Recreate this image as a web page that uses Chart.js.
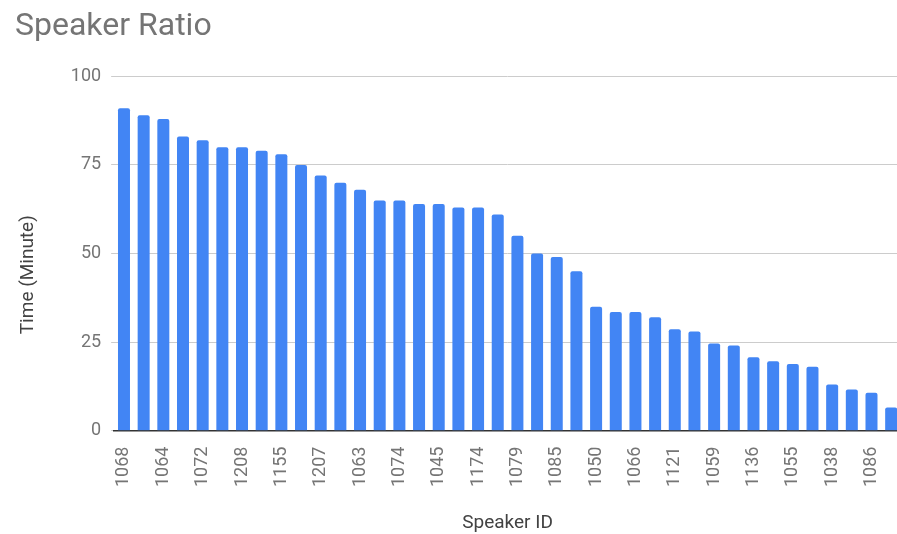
<!DOCTYPE html>
<html>
<head>
<meta charset="utf-8">
<script src="https://cdn.jsdelivr.net/npm/chart.js@4"></script>
<style>
  html, body { margin: 0; padding: 0; background: #fff; overflow: hidden; }
  /* slightly wider than the window: the last bar sits on the right edge in the source */
  #wrap { width: 901px; height: 534px; }
</style>
</head>
<body>
<div id="wrap"><canvas id="speakerChart"></canvas></div>
<script>
// Speaker IDs; only every other label is readable in the source, the rest are left blank
const speakerIds = [
  '1068', '', '1064', '', '1072', '', '1208', '', '1155', '',
  '1207', '', '1063', '', '1074', '', '1045', '', '1174', '',
  '1079', '', '1085', '', '1050', '', '1066', '', '1121', '',
  '1059', '', '1136', '', '1055', '', '1038', '', '1086', ''
];
const minutes = [
  91, 89, 88, 83, 82, 80, 80, 79, 78, 75,
  72, 70, 68, 65, 65, 64, 64, 63, 63, 61,
  55, 50, 49, 45, 35, 33.5, 33.5, 32, 28.6, 28,
  24.6, 24, 20.7, 19.6, 18.8, 18, 13, 11.6, 10.7, 6.5
];
const yTicks = [0, 25, 50, 75, 100];

const ctx = document.getElementById('speakerChart').getContext('2d');
new Chart(ctx, {
  type: 'bar',
  data: {
    labels: speakerIds,
    datasets: [
      {
        label: 'Time (Minute)',
        data: minutes,
        backgroundColor: '#4285F4',
        borderRadius: 2,
        barPercentage: 0.61,
        categoryPercentage: 1,
      },
    ],
  },
  options: {
    responsive: true,
    maintainAspectRatio: false,
    animation: false,
    layout: { padding: { left: 15, right: 0, top: 8, bottom: 0 } },
    plugins: {
      legend: { display: false },
      tooltip: { enabled: false },
      title: {
        display: true,
        text: 'Speaker Ratio',
        align: 'start',
        color: '#757575',
        font: { family: 'Roboto', size: 32, weight: 'normal' },
        padding: { top: 0, bottom: 30 },
      },
    },
    scales: {
      x: {
        afterFit: (axis) => {
          axis.paddingRight = 0;
        },
        grid: { display: false },
        border: { display: true, color: '#333', width: 1.5 },
        ticks: {
          autoSkip: false,
          minRotation: 90,
          maxRotation: 90,
          padding: 8,
          color: '#757575',
          font: { family: 'Roboto', size: 18 },
          callback: (v, i) => speakerIds[i],
        },
        title: {
          display: true,
          text: 'Speaker ID',
          color: '#424242',
          font: { family: 'Roboto', size: 19, lineHeight: 1.1 },
          padding: { top: 18, bottom: 0 },
        },
      },
      y: {
        min: 0,
        max: 100,
        afterBuildTicks: (axis) => {
          axis.ticks = yTicks.map((v) => ({ value: v }));
        },
        // short tick marks in grid colour so the lines start left of the first bar
        grid: { color: '#cccccc', lineWidth: 1, drawTicks: true, tickLength: 3 },
        border: { display: false },
        ticks: {
          padding: 10,
          color: '#757575',
          font: { family: 'Roboto', size: 18 },
        },
        title: {
          display: true,
          // trailing spaces nudge the rotated title down to sit like the source
          text: 'Time (Minute)         ',
          color: '#424242',
          font: { family: 'Roboto', size: 19 },
          padding: { top: 2, bottom: 21 },
        },
      },
    },
  },
});
</script>
</body>
</html>
